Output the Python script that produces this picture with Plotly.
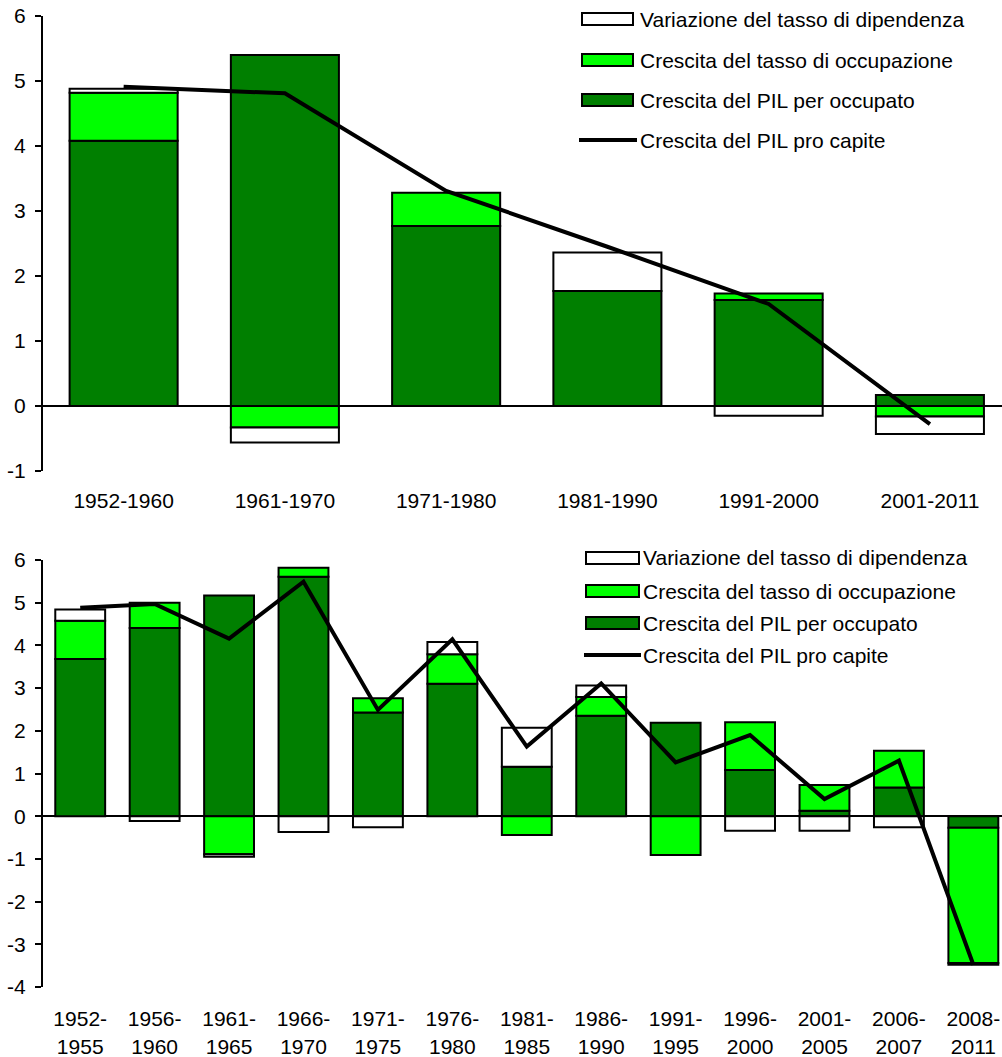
import plotly.graph_objects as go

# ---------------- data ----------------
series_names = [
    "Variazione del tasso di dipendenza",
    "Crescita del tasso di occupazione",
    "Crescita del PIL per occupato",
    "Crescita del PIL pro capite",
]

cats_top = ["1952-1960", "1961-1970", "1971-1980", "1981-1990", "1991-2000", "2001-2011"]
pil_occ_top = [4.08, 5.40, 2.77, 1.77, 1.63, 0.17]
occ_top = [0.74, -0.33, 0.51, None, 0.10, -0.16]
dip_top = [0.06, -0.23, None, 0.59, -0.15, -0.27]
pil_pc_top = [4.91, 4.81, 3.31, 2.45, 1.57, -0.28]

cats_bot = ["1952-1955", "1956-1960", "1961-1965", "1966-1970", "1971-1975", "1976-1980",
            "1981-1985", "1986-1990", "1991-1995", "1996-2000", "2001-2005", "2006-2007",
            "2008-2011"]
pil_occ_bot = [3.68, 4.41, 5.17, 5.61, 2.43, 3.10, 1.16, 2.35, 2.19, 1.08, 0.13, 0.67, -0.27]
occ_bot = [0.90, 0.59, -0.89, 0.21, 0.33, 0.69, -0.44, 0.44, -0.91, 1.12, 0.60, 0.86, -3.17]
dip_bot = [0.26, -0.11, -0.06, -0.37, -0.26, 0.29, 0.91, 0.27, None, -0.34, -0.34, -0.26, -0.04]
pil_pc_bot = [4.88, 4.97, 4.16, 5.49, 2.49, 4.14, 1.63, 3.11, 1.26, 1.90, 0.40, 1.30, -3.48]

yticks_top = [-1, 0, 1, 2, 3, 4, 5, 6]
yticks_bot = [-4, -3, -2, -1, 0, 1, 2, 3, 4, 5, 6]

# ---------------- style ----------------
DARK = "#007F00"
LIGHT = "#00FF00"
WHITE = "#FFFFFF"
FONT = "Liberation Sans, Arial, sans-serif"
FS = 21
W, H = 1002, 1057
ML, MR, MT, MB = 43, 0, 16, 70
PW, PH = W - ML - MR, H - MT - MB


def px_x(px):
    return (px - ML) / PW


def px_y(py):
    return (H - MB - py) / PH


fig = go.Figure()

bar_line = dict(color="black", width=2)


def add_chart(cats, dark, light, white, line, xa, ya):
    fig.add_trace(go.Bar(x=cats, y=dark, name=series_names[2], marker=dict(color=DARK, line=bar_line),
                         xaxis=xa, yaxis=ya, showlegend=False))
    fig.add_trace(go.Bar(x=cats, y=light, name=series_names[1], marker=dict(color=LIGHT, line=bar_line),
                         xaxis=xa, yaxis=ya, showlegend=False))
    fig.add_trace(go.Bar(x=cats, y=white, name=series_names[0], marker=dict(color=WHITE, line=bar_line),
                         xaxis=xa, yaxis=ya, showlegend=False))
    fig.add_trace(go.Scatter(x=cats, y=line, name=series_names[3], mode="lines",
                             line=dict(color="black", width=4), xaxis=xa, yaxis=ya, showlegend=False))


add_chart(cats_top, pil_occ_top, occ_top, dip_top, pil_pc_top, "x", "y")
add_chart(cats_bot, pil_occ_bot, occ_bot, dip_bot, pil_pc_bot, "x2", "y2")

top_dom = [px_y(471), px_y(16)]
bot_dom = [px_y(987), px_y(560)]

xcommon = dict(type="category", showline=False, showgrid=False, zeroline=False,
               ticks="outside", tickcolor="rgba(0,0,0,0)",
               tickfont=dict(family=FONT, size=FS, color="black"))
ycommon = dict(showline=True, linecolor="black", linewidth=2, ticks="outside", ticklen=6,
               tickwidth=2, tickcolor="black", showgrid=False, zeroline=True,
               zerolinecolor="black", zerolinewidth=1.5, tickmode="array",
               ticklabelstandoff=5,
               tickfont=dict(family=FONT, size=FS, color="black"))

fig.update_layout(
    width=W, height=H,
    margin=dict(l=ML, r=MR, t=MT, b=MB),
    paper_bgcolor="white", plot_bgcolor="white",
    barmode="relative", bargap=0.33,
    showlegend=False,
    font=dict(family=FONT, size=FS, color="black"),
    xaxis=dict(domain=[0, 1], anchor="y", range=[-0.5, 5.447], ticklen=11,
               categoryarray=cats_top, **xcommon),
    yaxis=dict(domain=top_dom, anchor="x", range=[-1, 6],
               tickvals=yticks_top, ticktext=[str(v) for v in yticks_top], **ycommon),
    xaxis2=dict(domain=[0, 1], anchor="y2", range=[-0.5, 12.385], ticklen=13,
                tickmode="array", tickvals=cats_bot,
                ticktext=[c.replace("-", "-<br>") for c in cats_bot], **xcommon),
    yaxis2=dict(domain=bot_dom, anchor="x2", range=[-4, 6],
                tickvals=yticks_bot, ticktext=[str(v) for v in yticks_bot], **ycommon),
)

# ---------------- manual legends ----------------
shapes = []
annotations = []


def add_legend(rows_y, sw_x0, sw_x1, text_x, line_x0, line_x1):
    fills = [WHITE, LIGHT, DARK]
    for i in range(3):
        yc = rows_y[i]
        shapes.append(dict(type="rect", xref="paper", yref="paper",
                           x0=px_x(sw_x0), x1=px_x(sw_x1), y0=px_y(yc + 6), y1=px_y(yc - 6),
                           fillcolor=fills[i], line=dict(color="black", width=2)))
    yc = rows_y[3]
    shapes.append(dict(type="line", xref="paper", yref="paper",
                       x0=px_x(line_x0), x1=px_x(line_x1), y0=px_y(yc), y1=px_y(yc),
                       line=dict(color="black", width=4)))
    for i in range(4):
        annotations.append(dict(xref="paper", yref="paper", x=px_x(text_x), y=px_y(rows_y[i]),
                                text=series_names[i], showarrow=False, xanchor="left",
                                yanchor="middle", font=dict(family=FONT, size=FS, color="black")))


add_legend([19, 60, 100, 140], 582, 633, 638, 579, 637)
add_legend([558, 591, 623, 655], 586, 639, 641, 584, 641)

fig.update_layout(shapes=shapes, annotations=annotations)

fig.write_html(
    "out.html",
    config={"displayModeBar": False},
    post_script="document.body.style.margin='0';document.body.style.padding='0';"
                "document.body.style.overflow='hidden';",
)
